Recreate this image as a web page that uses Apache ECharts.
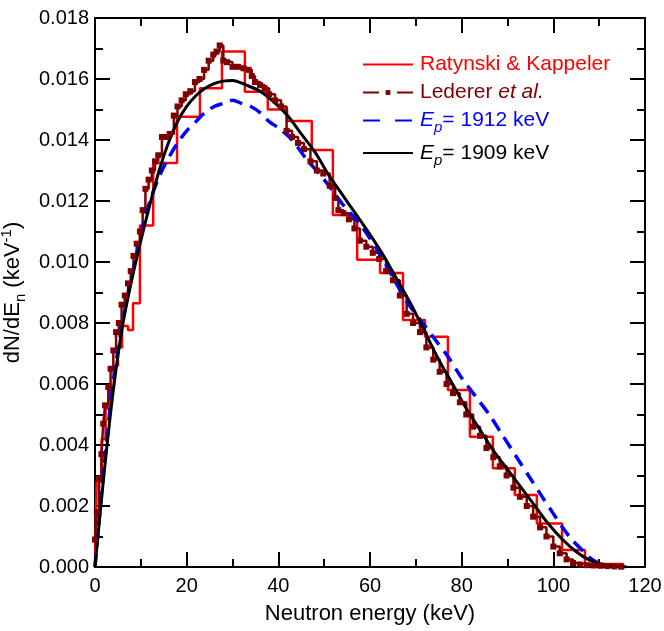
<!DOCTYPE html>
<html>
<head>
<meta charset="utf-8">
<script src="https://cdn.jsdelivr.net/npm/echarts@6/dist/echarts.min.js"></script>
<style>
  html, body { margin: 0; padding: 0; background: #fff; }
  #chart { width: 664px; height: 631px; }
</style>
</head>
<body>
<div id="chart"></div>
<script>
// Ratynski & Kappeler histogram: bin left edges (keV) and heights (keV^-1)
const rkEdges = [0, 0.35, 1.45, 2.3, 3.2, 4.1, 5.0, 5.9, 7.2, 8.3, 9.8, 12.7, 17.9, 22.9, 27.7, 32.7, 37.7, 41.9, 47.3, 51.9, 57.2, 62.2, 67.2, 72.0, 77.0, 81.8, 86.8, 91.6, 96.4, 101.9, 106.9, 115.2];
const rkValues = [0, 0.0028, 0.0042, 0.0052, 0.0059, 0.0066, 0.0072, 0.0079, 0.00777, 0.00865, 0.0112, 0.01325, 0.01476, 0.0157, 0.0169, 0.01558, 0.0150, 0.01462, 0.01367, 0.01154, 0.01007, 0.00964, 0.0081, 0.00755, 0.0058, 0.00427, 0.00324, 0.00236, 0.00143, 0.00056, 0.0001, 0];

// Lederer et al. fine-binned spectrum
const ledEdges = [0, 0.4, 0.9, 1.4, 1.8, 2.2, 2.9, 3.4, 4.0, 4.6, 5.2, 5.8, 6.5, 7.2, 7.8, 8.4, 9.1, 9.8, 10.4, 11.0, 11.7, 12.4, 13.1, 13.8, 14.6, 15.4, 16.3, 17.2, 18.0, 18.9, 19.8, 20.8, 21.8, 22.8, 23.8, 24.8, 25.8, 26.5, 27.2, 28.0, 28.8, 30.0, 31.2, 32.4, 33.5, 34.2, 34.9, 36.0, 37.0, 38.0, 39.3, 40.6, 41.8, 43.0, 44.3, 45.6, 47.0, 48.4, 49.8, 51.2, 52.4, 53.1, 54.2, 55.4, 56.6, 57.8, 59.2, 60.6, 62.0, 63.5, 65.0, 66.5, 68.0, 69.4, 70.9, 72.3, 73.8, 75.2, 76.7, 78.1, 79.6, 81.0, 82.5, 84.0, 85.4, 86.9, 88.3, 89.8, 91.3, 92.7, 94.2, 95.6, 97.1, 98.5, 100.0, 101.4, 102.9, 104.3, 105.8, 107.3, 108.8, 110.3, 111.8, 113.3, 114.8];
const ledValues = [0.0009, 0.0018, 0.0029, 0.0037, 0.0047, 0.0053, 0.0059, 0.0065, 0.0071, 0.0077, 0.0080, 0.0086, 0.0089, 0.0093, 0.0097, 0.0102, 0.0106, 0.0110, 0.0117, 0.0124, 0.0127, 0.0130, 0.0133, 0.0135, 0.0141, 0.0141, 0.0142, 0.0148, 0.0151, 0.0153, 0.0155, 0.0156, 0.0159, 0.0160, 0.0163, 0.0166, 0.0168, 0.0169, 0.0171, 0.0166, 0.01655, 0.0164, 0.0164, 0.01635, 0.0163, 0.0161, 0.0159, 0.0158, 0.0157, 0.0155, 0.0153, 0.0151, 0.0143, 0.0141, 0.0139, 0.0137, 0.0133, 0.0130, 0.0129, 0.0125, 0.0121, 0.0117, 0.0116, 0.0114, 0.0111, 0.0107, 0.0105, 0.0103, 0.0101, 0.0097, 0.0094, 0.0089, 0.0083, 0.0080, 0.0077, 0.0072, 0.0068, 0.0064, 0.0060, 0.0057, 0.0054, 0.0050, 0.0046, 0.0043, 0.0039, 0.0036, 0.0033, 0.0030, 0.0026, 0.0023, 0.0020, 0.00165, 0.0013, 0.0010, 0.00067, 0.00045, 0.00025, 0.00013, 0.00008, 0.00006, 0.00005, 0.00004, 0.00003, 0.00002, 0.00001];

// Calculated spectrum, Ep = 1912 keV
const ep1912E = [0, 1, 2, 3, 4, 5, 6, 7, 8, 10, 12, 14, 16, 18, 20, 22, 24, 26, 28, 30, 32, 34, 36, 38, 40, 43, 46, 50, 54, 58, 62, 65, 68, 71, 74, 77, 80, 83, 86, 89, 92, 95, 98, 100, 102, 104, 106, 108, 110, 111];
const ep1912V = [0, 0.0017, 0.0033, 0.0048, 0.0061, 0.0071, 0.0080, 0.0088, 0.0095, 0.0109, 0.0120, 0.0128, 0.0134, 0.0139, 0.0143, 0.0146, 0.0149, 0.0151, 0.0152, 0.0153, 0.0152, 0.0151, 0.0149, 0.0146, 0.0144, 0.0140, 0.0134, 0.0127, 0.0119, 0.0112, 0.0103, 0.0095, 0.0087, 0.0081, 0.0075, 0.0069, 0.0062, 0.0056, 0.0050, 0.0043, 0.0036, 0.0029, 0.0022, 0.00175, 0.0013, 0.0009, 0.0006, 0.0003, 0.0001, 0];

// Calculated spectrum, Ep = 1909 keV
const ep1909E = [0, 2, 4, 6, 8, 10, 12, 14, 16, 18, 20, 22, 24, 26, 28, 30, 33, 36, 39, 42, 45, 48, 51, 54, 57, 60, 63, 66, 69, 72, 75, 78, 81, 84, 87, 90, 93, 96, 99, 102, 105, 108, 111, 114, 116];
const ep1909V = [0, 0.0031, 0.0058, 0.0079, 0.0094, 0.0107, 0.0119, 0.0130, 0.0139, 0.0146, 0.0151, 0.01545, 0.0157, 0.01585, 0.01593, 0.01595, 0.0158, 0.0156, 0.01525, 0.0148, 0.0142, 0.0136, 0.01285, 0.0122, 0.01155, 0.0109, 0.0102, 0.0094, 0.0086, 0.0077, 0.0068, 0.0060, 0.0052, 0.0045, 0.0038, 0.0032, 0.0026, 0.0020, 0.0014, 0.0009, 0.0005, 0.00022, 0.00008, 0.00002, 0];

// Axis ticks
const xTicks = { min: 0, max: 120, step: 20 };
const yTicks = { min: 0, max: 0.018, step: 0.002 };

const zip = (xs, ys) => xs.map((x, i) => [x, ys[i]]);

const FONT = '"Liberation Sans", Arial, sans-serif';
const RED = '#ff0000', MAROON = '#800000', BLUE = '#0000ff', BLACK = '#000000';

const names = ['Ratynski & Kappeler', 'Lederer et al.', 'Ep = 1912 keV', 'Ep = 1909 keV'];

const chart = echarts.init(document.getElementById('chart'), null, { renderer: 'canvas' });

const axisCommon = {
  axisLine: { show: true, onZero: false, lineStyle: { color: '#000', width: 2 } },
  axisTick: { show: true, inside: true, length: 15, lineStyle: { color: '#000', width: 2 } },
  minorTick: { show: true, splitNumber: 2, length: 8, lineStyle: { color: '#000', width: 2 } },
  splitLine: { show: false },
  minorSplitLine: { show: false }
};

const LF = 21; // legend font size
const txt = (color, italic) => ({ color, fontFamily: FONT, fontSize: LF, fontStyle: italic ? 'italic' : 'normal' });
const sub = (color) => ({ color, fontFamily: FONT, fontSize: 15, fontStyle: 'italic', padding: [15, 0, 0, 0] });
const noDot = { opacity: 0 };

chart.setOption({
  animation: false,
  backgroundColor: '#fff',
  grid: { left: 95, right: 19, top: 18, bottom: 64, containLabel: false, outerBoundsMode: 'none' },
  xAxis: [
    Object.assign({
      type: 'value', position: 'bottom',
      min: xTicks.min, max: xTicks.max, interval: xTicks.step,
      name: 'Neutron energy (keV)', nameLocation: 'middle', nameGap: 36,
      nameTextStyle: { fontFamily: FONT, fontSize: 22, color: '#000' },
      axisLabel: { fontFamily: FONT, fontSize: 20, color: '#000', margin: 9 }
    }, axisCommon),
    Object.assign({
      type: 'value', position: 'top',
      min: xTicks.min, max: xTicks.max, interval: xTicks.step,
      axisLabel: { show: false }
    }, axisCommon)
  ],
  yAxis: [
    Object.assign({
      type: 'value', position: 'left',
      min: yTicks.min, max: yTicks.max, interval: yTicks.step,
      name: '{a|dN/dE}{s|n}{a| (keV}{p|-1}{a|)}',
      nameLocation: 'middle', nameGap: 60, nameRotate: 90,
      nameTextStyle: {
        rich: {
          a: { fontFamily: FONT, fontSize: 22, color: '#000' },
          s: { fontFamily: FONT, fontSize: 15, color: '#000', padding: [15, 0, 0, 0] },
          p: { fontFamily: FONT, fontSize: 15, color: '#000', padding: [0, 0, 13, 0] }
        }
      },
      axisLabel: {
        fontFamily: FONT, fontSize: 20, color: '#000', margin: 6,
        formatter: (v) => v.toFixed(3)
      }
    }, axisCommon),
    Object.assign({
      type: 'value', position: 'right',
      min: yTicks.min, max: yTicks.max, interval: yTicks.step,
      axisLabel: { show: false }
    }, axisCommon)
  ],
  legend: {
    orient: 'vertical', left: 357, top: 49,
    itemWidth: 50, itemHeight: 6, itemGap: 7,
    selectedMode: false,
    data: [
      { name: names[0], itemStyle: noDot },
      { name: names[1], lineStyle: { type: [16, 18] } },
      { name: names[2], itemStyle: noDot, lineStyle: { type: [17, 15] } },
      { name: names[3], itemStyle: noDot }
    ],
    formatter: (n) => {
      if (n === names[0]) return '{r|Ratynski & Kappeler}';
      if (n === names[1]) return '{m|Lederer }{mi|et al.}';
      if (n === names[2]) return '{bi|E}{bs|p}{b|= 1912 keV}';
      return '{ki|E}{ks|p}{k|= 1909 keV}';
    },
    textStyle: {
      padding: [0, 0, 0, 2],
      rich: {
        r: txt(RED), m: txt(MAROON), mi: txt(MAROON, true),
        bi: txt(BLUE, true), bs: sub(BLUE), b: txt(BLUE),
        ki: txt(BLACK, true), ks: sub(BLACK), k: txt(BLACK)
      }
    }
  },
  series: [
    {
      name: names[0], type: 'line', step: 'end',
      data: zip(rkEdges, rkValues),
      symbol: 'none', color: RED,
      lineStyle: { color: RED, width: 2.5 }
    },
    {
      name: names[1], type: 'line', step: 'end',
      data: zip(ledEdges, ledValues),
      symbol: 'rect', symbolSize: 6, showAllSymbol: true, color: MAROON,
      itemStyle: { color: MAROON },
      lineStyle: { color: MAROON, width: 2.5 }
    },
    {
      name: names[2], type: 'line', smooth: 0.3,
      data: zip(ep1912E, ep1912V),
      symbol: 'none', color: BLUE,
      lineStyle: { color: BLUE, width: 3.5, type: [13, 8] }
    },
    {
      name: names[3], type: 'line', smooth: 0.3,
      data: zip(ep1909E, ep1909V),
      symbol: 'none', color: BLACK,
      lineStyle: { color: BLACK, width: 3 }
    }
  ]
});
</script>
</body>
</html>
